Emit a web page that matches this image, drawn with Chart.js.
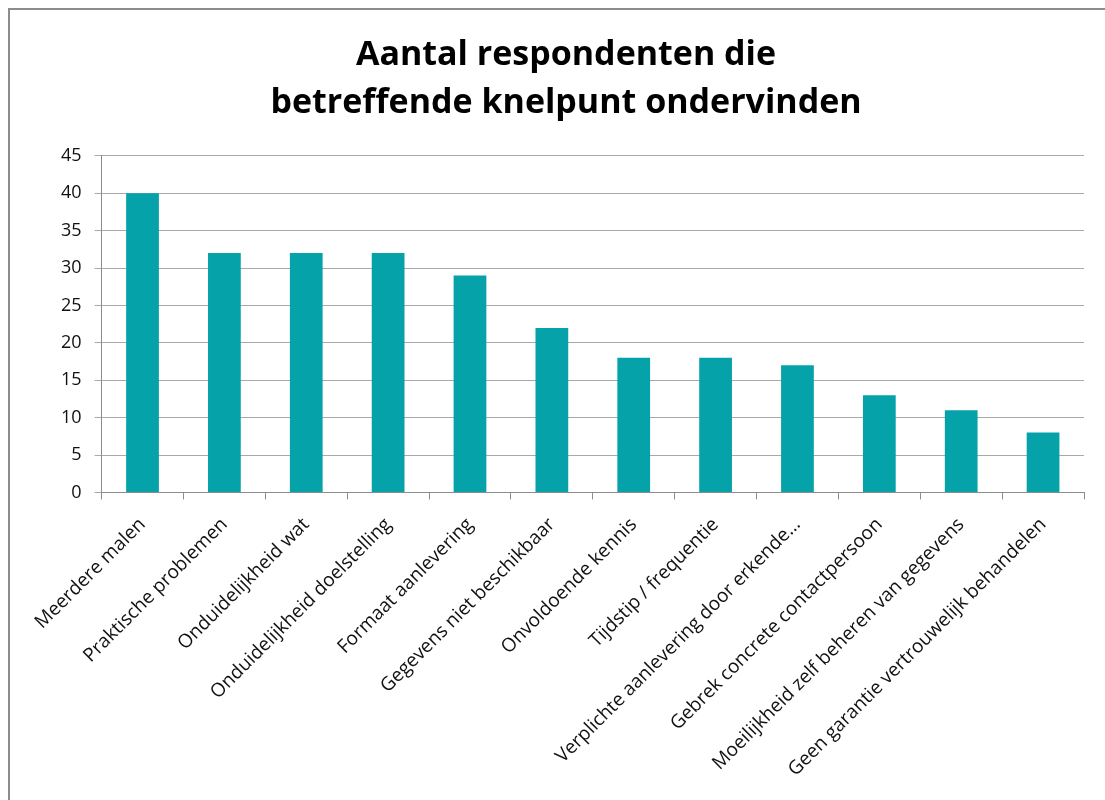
<!DOCTYPE html>
<html>
<head>
<meta charset="utf-8">
<script src="https://cdn.jsdelivr.net/npm/chart.js@4/dist/chart.umd.min.js"></script>
<style>
  body { margin: 0; background: #fff; overflow: hidden; }
  .frame { position: absolute; left: 8px; top: 8px; width: 1300px; height: 1000px; border: 2px solid #8c8c8c; }
  .wrap { position: absolute; left: 0; top: 0; width: 1105px; height: 800px; }
</style>
</head>
<body>
<div class="frame"></div>
<div class="wrap"><canvas id="knelpunten"></canvas></div>
<script>
// categorieën en aantallen
const knelpunten = [
    'Meerdere malen',
    'Praktische problemen',
    'Onduidelijkheid wat',
    'Onduidelijkheid doelstelling',
    'Formaat aanlevering',
    'Gegevens niet beschikbaar',
    'Onvoldoende kennis',
    'Tijdstip / frequentie',
    'Verplichte aanlevering door erkende…',
    'Gebrek concrete contactpersoon',
    'Moeilijkheid zelf beheren van gegevens',
    'Geen garantie vertrouwelijk behandelen'
];
const aantallen = [40, 32, 32, 32, 29, 22, 18, 18, 17, 13, 11, 8];
const titel = ['Aantal respondenten die', 'betreffende knelpunt ondervinden'];

document.addEventListener('DOMContentLoaded', function () {
    const ctx = document.getElementById('knelpunten').getContext('2d');
    new Chart(ctx, {
        type: 'bar',
        data: {
            labels: knelpunten,
            datasets: [{
                data: aantallen,
                backgroundColor: '#06a2aa',
                barPercentage: 0.4,
                categoryPercentage: 1.0
            }]
        },
        options: {
            responsive: true,
            maintainAspectRatio: false,
            animation: false,
            layout: { padding: { left: 48, right: 21, top: 10, bottom: 5 } },
            plugins: {
                legend: { display: false },
                tooltip: { enabled: false },
                title: {
                    display: true,
                    text: titel,
                    color: '#000',
                    font: { family: 'Open Sans', size: 34, weight: 'bold', lineHeight: 1.41 },
                    padding: { top: 21, bottom: 29 }
                }
            },
            scales: {
                x: {
                    offset: true,
                    grid: { offset: true, drawOnChartArea: false, drawTicks: true, tickLength: 7, color: '#8c8c8c' },
                    border: { color: '#8c8c8c' },
                    ticks: {
                        minRotation: 45, maxRotation: 45, autoSkip: false,
                        color: '#111', padding: 14,
                        font: { family: 'Open Sans', size: 19 }
                    }
                },
                y: {
                    min: 0, max: 45,
                    ticks: { stepSize: 5, color: '#111', padding: 13, font: { family: 'Open Sans', size: 18 } },
                    grid: { color: '#a9a9a9', tickLength: 7 },
                    border: { color: '#8c8c8c' }
                }
            }
        }
    });
});
</script>
</body>
</html>
